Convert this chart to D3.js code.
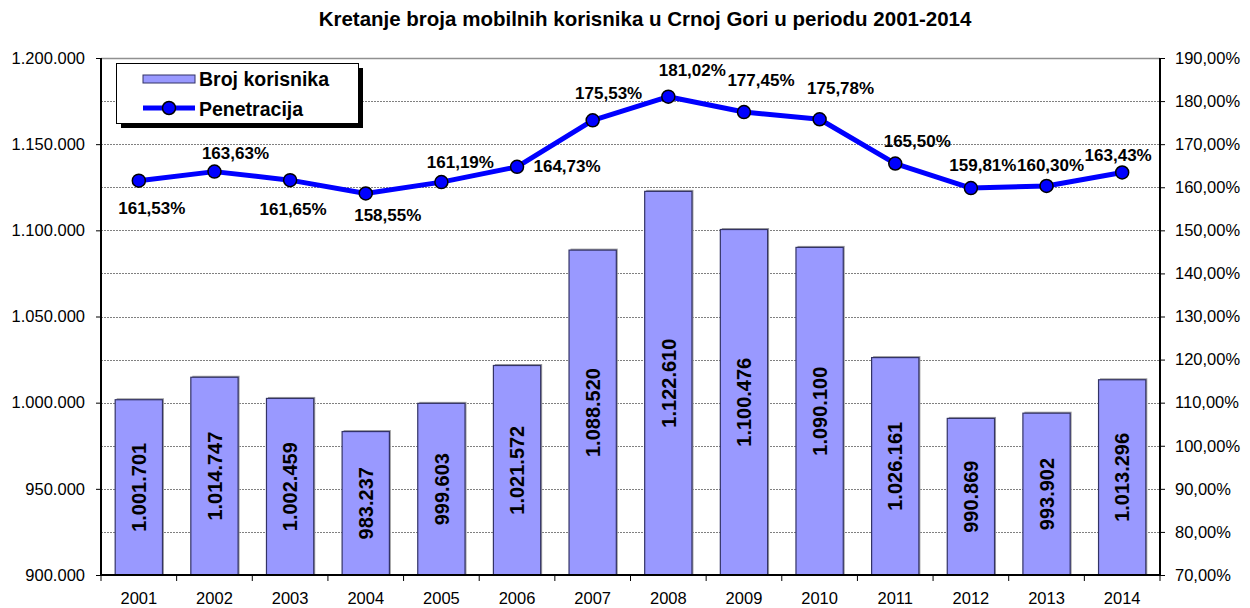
<!DOCTYPE html>
<html>
<head>
<meta charset="utf-8">
<script src="https://cdn.jsdelivr.net/npm/d3@7"></script>
<style>
  html, body { margin: 0; padding: 0; background: #fff; }
  svg { display: block; font-family: Arial, "Liberation Sans", sans-serif; }
</style>
</head>
<body>
<svg id="chart" width="1250" height="608"></svg>
<script>
// ---- data ----
const years = ["2001","2002","2003","2004","2005","2006","2007","2008","2009","2010","2011","2012","2013","2014"];
const users = [1001701, 1014747, 1002459, 983237, 999603, 1021572, 1088520, 1122610, 1100476, 1090100, 1026161, 990869, 993902, 1013296];
const penetration = [161.53, 163.63, 161.65, 158.55, 161.19, 164.73, 175.53, 181.02, 177.45, 175.78, 165.50, 159.81, 160.30, 163.43];
const leftTicks = [900000, 950000, 1000000, 1050000, 1100000, 1150000, 1200000];
const rightTicks = [70, 80, 90, 100, 110, 120, 130, 140, 150, 160, 170, 180, 190];
const titleText = "Kretanje broja mobilnih korisnika u Crnoj Gori u periodu 2001-2014";
const seriesNames = ["Broj korisnika", "Penetracija"];
// label placement offsets (dx, dy) for the percentage labels, relative to each point
const pctLabelOffsets = [[13,27],[21,-19],[3,29],[22,21],[19,-20],[50,-1],[16,-27],[24,-27],[17,-32],[21,-31],[22,-23],[12,-23],[4,-21],[-4,-18]];

// ---- layout ----
const svg = d3.select("#chart");
const L = 101, R = 1160, T = 58, B = 575;

const loc = d3.formatLocale({decimal: ",", thousands: ".", grouping: [3], currency: ["", ""]});
const fmtInt = loc.format(",d");
const fmtPct = v => loc.format(".2f")(v) + "%";

const x = d3.scaleBand().domain(years).range([L, R]).paddingInner(0).paddingOuter(0);
const yL = d3.scaleLinear().domain([900000, 1200000]).range([B, T]);
const yR = d3.scaleLinear().domain([70, 190]).range([B, T]);

// title
svg.append("text")
  .attr("x", 645).attr("y", 26)
  .attr("text-anchor", "middle")
  .attr("font-size", 20.5).attr("font-weight", "bold")
  .text(titleText);

// gridlines (dashed)
svg.append("g").selectAll("line")
  .data(rightTicks.filter(t => t > 70 && t < 190))
  .join("line")
  .attr("x1", L).attr("x2", R)
  .attr("y1", d => Math.round(yR(d)) + 0.5).attr("y2", d => Math.round(yR(d)) + 0.5)
  .attr("stroke", "#808080").attr("stroke-width", 1)
  .attr("stroke-dasharray", "2,1");

// top border
svg.append("line")
  .attr("x1", L).attr("x2", R).attr("y1", T + 0.5).attr("y2", T + 0.5)
  .attr("stroke", "#909090").attr("stroke-width", 1.5);

// bars
const bw = x.bandwidth() * 0.625;
const bars = svg.append("g");
bars.selectAll("rect.shadow")
  .data(users).join("rect").attr("class", "shadow")
  .attr("x", (d, i) => x(years[i]) + (x.bandwidth() - bw) / 2 + 1.5)
  .attr("y", d => yL(d) - 1.5)
  .attr("width", bw).attr("height", d => B - yL(d) + 1.5)
  .attr("fill", "#a0a0a0");
bars.selectAll("rect.bar")
  .data(users).join("rect").attr("class", "bar")
  .attr("x", (d, i) => x(years[i]) + (x.bandwidth() - bw) / 2)
  .attr("y", d => yL(d))
  .attr("width", bw).attr("height", d => B - yL(d))
  .attr("fill", "#9999FF").attr("stroke", "#333366").attr("stroke-width", 1.2);

// bar labels (vertical, centered in bar)
bars.selectAll("text")
  .data(users).join("text")
  .attr("transform", (d, i) => {
    const cx = x(years[i]) + x.bandwidth() / 2;
    const cy = (yL(d) + B) / 2;
    return `translate(${cx},${cy}) rotate(-90)`;
  })
  .attr("text-anchor", "middle").attr("dy", "0.36em")
  .attr("font-size", 20).attr("font-weight", "bold").attr("fill", "#000")
  .text(d => fmtInt(d));

// axes
const axL = svg.append("g").attr("transform", `translate(${L},0)`)
  .call(d3.axisLeft(yL).tickValues(leftTicks).tickFormat(fmtInt).tickSize(5).tickPadding(11));
const axR = svg.append("g").attr("transform", `translate(${R},0)`)
  .call(d3.axisRight(yR).tickValues(rightTicks).tickFormat(d => loc.format(".2f")(d) + "%").tickSize(5).tickPadding(10));
const axB = svg.append("g").attr("transform", `translate(0,${B})`)
  .call(d3.axisBottom(x).tickSize(0).tickPadding(17));
[axL, axR, axB].forEach(a => {
  a.selectAll("text").attr("font-size", 16.5).attr("font-family", "Arial, 'Liberation Sans', sans-serif").attr("fill", "#000");
  a.select(".domain").attr("stroke", "#000").attr("stroke-width", 2);
  a.selectAll(".tick line").attr("stroke", "#000").attr("stroke-width", 1);
});
axL.select(".domain").attr("d", `M0,${T}V${B}`);
axR.select(".domain").attr("d", `M0,${T}V${B}`);
axB.select(".domain").attr("d", `M${L},0H${R}`);
// category boundary ticks
svg.append("g").selectAll("line")
  .data(years.concat(["end"]))
  .join("line")
  .attr("x1", (d, i) => L + i * x.bandwidth()).attr("x2", (d, i) => L + i * x.bandwidth())
  .attr("y1", B).attr("y2", B + 6)
  .attr("stroke", "#000").attr("stroke-width", 1);

// line
const cx = i => x(years[i]) + x.bandwidth() / 2;
const lineGen = d3.line().x((d, i) => cx(i)).y(d => yR(d));
svg.append("path")
  .datum(penetration)
  .attr("d", lineGen)
  .attr("fill", "none").attr("stroke", "#0000FF").attr("stroke-width", 5)
  .attr("stroke-linejoin", "round");
svg.append("g").selectAll("circle")
  .data(penetration).join("circle")
  .attr("cx", (d, i) => cx(i)).attr("cy", d => yR(d)).attr("r", 6.5)
  .attr("fill", "#0000FF").attr("stroke", "#000").attr("stroke-width", 1.5);

// percentage labels
svg.append("g").selectAll("text")
  .data(penetration).join("text")
  .attr("x", (d, i) => cx(i) + pctLabelOffsets[i][0])
  .attr("y", (d, i) => yR(d) + pctLabelOffsets[i][1])
  .attr("text-anchor", "middle").attr("dy", "0.36em")
  .attr("font-size", 17).attr("font-weight", "bold").attr("fill", "#000")
  .text(d => fmtPct(d));

// legend
const lg = svg.append("g");
lg.append("rect").attr("x", 121).attr("y", 68).attr("width", 242).attr("height", 60).attr("fill", "#000");
lg.append("rect").attr("x", 116.5).attr("y", 63.5).attr("width", 242).attr("height", 60)
  .attr("fill", "#fff").attr("stroke", "#000").attr("stroke-width", 1);
lg.append("rect").attr("x", 143).attr("y", 75).attr("width", 52).attr("height", 8)
  .attr("fill", "#9999FF").attr("stroke", "#333366").attr("stroke-width", 1);
lg.append("line").attr("x1", 143).attr("x2", 195).attr("y1", 108).attr("y2", 108)
  .attr("stroke", "#0000FF").attr("stroke-width", 5);
lg.append("circle").attr("cx", 169).attr("cy", 108).attr("r", 6.5)
  .attr("fill", "#0000FF").attr("stroke", "#000").attr("stroke-width", 1.5);
lg.selectAll("text.lt").data(seriesNames).join("text").attr("class", "lt")
  .attr("x", 199).attr("y", (d, i) => 79 + i * 30).attr("dy", "0.36em")
  .attr("font-size", 19.5).attr("font-weight", "bold")
  .text(d => d);
</script>
</body>
</html>
